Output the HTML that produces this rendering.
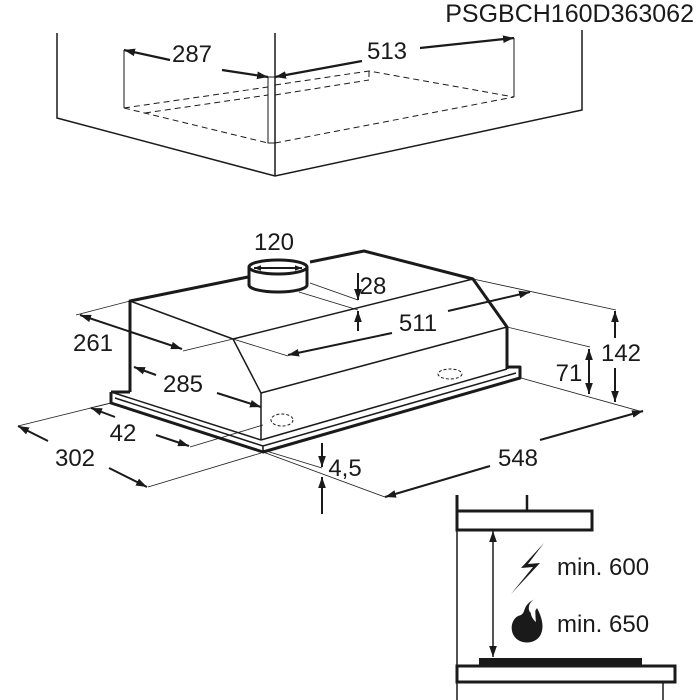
<!DOCTYPE html>
<html><head><meta charset="utf-8"><style>
html,body{margin:0;padding:0;background:#fff;}
svg{display:block;}
text{font-family:"Liberation Sans",sans-serif;fill:#1a1a1a;}
</style></head><body>
<svg width="700" height="700" viewBox="0 0 700 700" xmlns="http://www.w3.org/2000/svg">
<defs>
<marker id="a" viewBox="0 0 10 10" refX="10" refY="5" markerWidth="7" markerHeight="7" orient="auto-start-reverse" markerUnits="userSpaceOnUse"><path d="M0,1 L10,5 L0,9 z" fill="#1a1a1a"/></marker>
<marker id="b" viewBox="0 0 10 10" refX="10" refY="5" markerWidth="11" markerHeight="11" orient="auto-start-reverse" markerUnits="userSpaceOnUse"><path d="M0,1.5 L10,5 L0,8.5 z" fill="#1a1a1a"/></marker>
</defs>
<text x="694" y="22" font-size="25" text-anchor="end">PSGBCH160D363062</text>

<g stroke="#1a1a1a" fill="none" stroke-width="1.5">
<polyline points="57,33 57,118 275,176 582,110 582,30"/>
<line x1="275" y1="33" x2="275" y2="176"/>
<g stroke-width="1">
<line x1="124" y1="50" x2="124" y2="108"/>
<line x1="514" y1="38" x2="514" y2="97"/>
<rect x="268" y="77" width="7" height="66"/>
</g>
<g stroke-width="1" stroke-dasharray="6,4">
<polyline points="124,108 268,143"/>
<polyline points="275,143 514,97"/>
<polyline points="124,108 268,87"/>
<polyline points="145,113 268,95"/>
<polyline points="275,85 369,71 514,97"/>
<polyline points="275,95 369,80"/>
<line x1="369" y1="71" x2="369" y2="80"/>
</g>
<g stroke-width="2.2">
<line x1="170" y1="60" x2="124" y2="50" marker-end="url(#b)"/>
<line x1="222" y1="70" x2="268" y2="77" marker-end="url(#b)"/>
<line x1="362" y1="61" x2="275" y2="77" marker-end="url(#b)"/>
<line x1="420" y1="48" x2="514" y2="38" marker-end="url(#b)"/>
</g>
</g>
<g font-size="24" text-anchor="middle">
<text x="192" y="62">287</text>
<text x="387" y="59">513</text>
</g>

<g stroke="#1a1a1a" fill="none">
<g stroke-width="3" stroke-linejoin="round">
<polyline points="130,392 130,301 248,277"/>
<polyline points="310,262 364,251 473,279 507,327 507,369"/>
<path d="M249,267 L249,285 A29,7 0 0 0 307,285 L307,267"/>
<ellipse cx="278" cy="267" rx="29" ry="7" fill="#fff"/>
<polyline points="111,392 111,403 263,452 520,378 520,367 507,367"/>
<line x1="111" y1="392" x2="130" y2="392"/>
</g>
<g stroke-width="1.5">
<line x1="130" y1="301" x2="233" y2="339"/>
<line x1="233" y1="339" x2="473" y2="279"/>
<polyline points="233,339 261,393 261,440"/>
<line x1="261" y1="393" x2="507" y2="327"/>
<line x1="261" y1="440" x2="507" y2="369"/>
<polyline points="111,392 261,440"/>
<polyline points="115,398 263,446 516,373"/>
<line x1="263" y1="446" x2="263" y2="452"/>
</g>
<g stroke-width="1" stroke-dasharray="3,2">
<ellipse cx="282" cy="420" rx="11" ry="6"/>
<ellipse cx="450" cy="374" rx="12" ry="5"/>
</g>
<g stroke-width="0.8">
<line x1="130" y1="301" x2="76" y2="315"/>
<line x1="233" y1="339" x2="183" y2="351"/>
<line x1="233" y1="339" x2="288" y2="356"/>
<line x1="473" y1="279" x2="616" y2="310"/>
<line x1="310" y1="283" x2="358" y2="300"/>
<line x1="299" y1="292" x2="358" y2="310"/>
<line x1="507" y1="327" x2="590" y2="347"/>
<line x1="521" y1="378" x2="643" y2="412"/>
<line x1="263" y1="452" x2="385" y2="497"/>
<line x1="263" y1="450" x2="322" y2="468"/>
<line x1="111" y1="403" x2="90" y2="408"/>
<line x1="263" y1="425" x2="190" y2="447"/>
<line x1="111" y1="403" x2="18" y2="426"/>
<line x1="261" y1="453" x2="148" y2="487"/>
</g>
<g stroke-width="2">
<line x1="80" y1="315" x2="182" y2="349" marker-start="url(#b)" marker-end="url(#b)"/>
<line x1="392" y1="333" x2="288" y2="355" marker-end="url(#b)"/>
<line x1="448" y1="311" x2="530" y2="292" marker-end="url(#b)"/>
<line x1="358" y1="273" x2="358" y2="300" marker-end="url(#b)"/>
<line x1="358" y1="331" x2="358" y2="311" marker-end="url(#b)"/>
<line x1="254" y1="268" x2="302" y2="268" marker-start="url(#a)" marker-end="url(#a)"/>
<line x1="615" y1="338" x2="615" y2="311" marker-end="url(#b)"/>
<line x1="615" y1="368" x2="615" y2="402" marker-end="url(#b)"/>
<line x1="589" y1="349" x2="589" y2="394" marker-start="url(#b)" marker-end="url(#b)"/>
<line x1="540" y1="440" x2="643" y2="411" marker-end="url(#b)"/>
<line x1="490" y1="466" x2="385" y2="497" marker-end="url(#b)"/>
<line x1="322" y1="443" x2="322" y2="467" marker-end="url(#b)"/>
<line x1="322" y1="514" x2="322" y2="477" marker-end="url(#b)"/>
<line x1="156" y1="375" x2="134" y2="367" marker-end="url(#b)"/>
<line x1="217" y1="393" x2="261" y2="407" marker-end="url(#b)"/>
<line x1="115" y1="417" x2="91" y2="408" marker-end="url(#b)"/>
<line x1="156" y1="435" x2="189" y2="446" marker-end="url(#b)"/>
<line x1="48" y1="441" x2="18" y2="426" marker-end="url(#b)"/>
<line x1="109" y1="468" x2="147" y2="487" marker-end="url(#b)"/>
</g>
</g>
<g font-size="24" text-anchor="middle">
<text x="274" y="250">120</text>
<text x="373" y="294">28</text>
<text x="418" y="331">511</text>
<text x="93" y="351">261</text>
<text x="183" y="392">285</text>
<text x="621" y="361">142</text>
<text x="569" y="381">71</text>
<text x="123" y="441">42</text>
<text x="75" y="466">302</text>
<text x="518" y="466">548</text>
<text x="345" y="476">4,5</text>
</g>

<g stroke="#1a1a1a" fill="none">
<line x1="457" y1="495" x2="457" y2="512" stroke-width="3"/>
<line x1="457" y1="512" x2="457" y2="700" stroke-width="1.5"/>
<line x1="527" y1="495" x2="527" y2="511" stroke-width="2.5"/>
<rect x="457" y="511" width="135" height="19" stroke-width="3" fill="#fff"/>
<line x1="493" y1="531" x2="493" y2="657" stroke-width="1.5" marker-start="url(#b)" marker-end="url(#b)"/>
<rect x="479" y="658" width="163" height="7" fill="#1a1a1a" stroke="none"/>
<rect x="457" y="666" width="218" height="16" stroke-width="3" fill="#fff"/>
<line x1="663" y1="682" x2="663" y2="700" stroke-width="1.5"/>
</g>
<polygon points="544,543 521,568 533,567 511,594 540,563 528,564" fill="#1a1a1a"/>
<path d="M535,599 C520,606 528,614 518,616 C511,620 510,630 514,636 C520,645 536,645 541,634 C545,624 540,614 537,608 C534,614 530,614 529,610 C528,605 531,601 535,599 Z" fill="#1a1a1a"/>
<path d="M534,604 C528,610 531,618 536,622 C535,615 536,610 534,604 Z" fill="#fff"/>
<text x="557" y="575" font-size="24">min. 600</text>
<text x="557" y="632" font-size="24">min. 650</text>
</svg>
</body></html>
